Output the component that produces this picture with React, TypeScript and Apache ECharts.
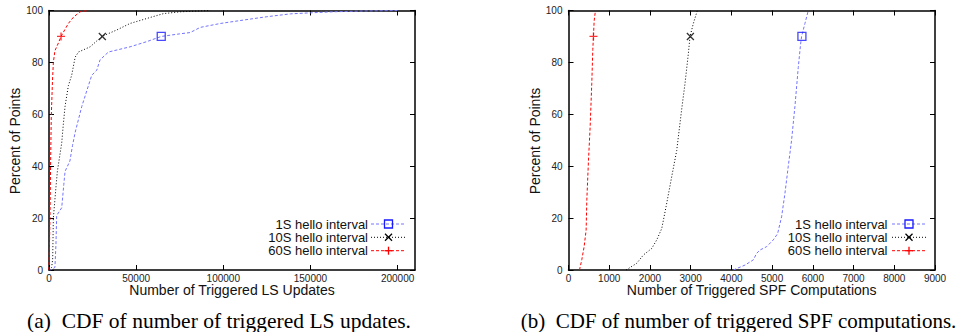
import React, { useEffect, useRef } from "react";
import * as echarts from "echarts";

// ---------- Data ----------
// (a) CDF of triggered LS updates: [count, percent]
const ls1s: number[][] = [
  [0, 0], [1000, 0], [3400, 1], [4000, 10], [4400, 21], [7300, 24], [8500, 33], [9200, 38],
  [12000, 42], [13500, 48], [15000, 53], [18800, 63], [22600, 71], [24500, 75], [27400, 77],
  [29300, 81], [34100, 84], [46500, 86], [56100, 88], [64400, 90], [75000, 91], [81000, 91.5],
  [86800, 93.5], [98300, 95], [115500, 96.7], [125000, 97.6], [138500, 98.7], [150000, 99.1],
  [163000, 99.5], [180000, 99.8], [200000, 100],
];
const ls10s: number[][] = [
  [0, 0], [1500, 1], [2100, 4], [2500, 20], [4000, 32], [4800, 38], [7300, 49], [8200, 56],
  [9200, 63], [11100, 71], [13000, 75], [15000, 82], [16900, 84], [23600, 86], [30300, 90],
  [38900, 92.5], [46500, 95], [58000, 97.3], [65700, 98.8], [75300, 99.5], [92500, 100],
];
const ls60s: number[][] = [
  [0, 0], [300, 10], [600, 22], [900, 40], [1300, 59], [2000, 73], [2500, 80], [3400, 84.5],
  [5400, 87.5], [6900, 90], [9000, 92.5], [11100, 95], [14000, 97.4], [17800, 99.5], [22600, 100],
];
const lsMarkers1s: number[][] = [[64400, 90]];
const lsMarkers10s: number[][] = [[30600, 90]];
const lsMarkers60s: number[][] = [[6900, 90]];

// (b) CDF of triggered SPF computations
const spf1s: number[][] = [
  [4047, 0], [4334, 1.9], [4538, 3.9], [4620, 6.4], [4702, 7.7], [4865, 9], [5029, 11.6],
  [5135, 14], [5233, 20.5], [5315, 29.5], [5397, 40], [5478, 50], [5560, 63], [5642, 78],
  [5699, 87], [5724, 90], [5806, 95], [5888, 100],
];
const spf10s: number[][] = [
  [1415, 0], [1676, 2.6], [1840, 5.8], [2044, 8.3], [2167, 11.6], [2290, 16], [2396, 24.4],
  [2535, 36], [2657, 46], [2780, 62], [2862, 72], [2944, 83.5], [2984, 90], [3066, 95], [3164, 100],
];
const spf60s: number[][] = [
  [270, 0], [327, 4], [384, 9], [433, 15.4], [450, 27], [490, 42], [531, 55], [572, 72],
  [597, 85], [613, 90], [630, 96], [662, 100],
];
const spfMarkers1s: number[][] = [[5732, 90]];
const spfMarkers10s: number[][] = [[2993, 90]];
const spfMarkers60s: number[][] = [[613, 90]];

const seriesNames = ["1S hello interval", "10S hello interval", "60S hello interval"];
const yTicks = { min: 0, max: 100, interval: 20 };
const lsAxis = { min: 0, max: 210000, interval: 50000 };
const spfAxis = { min: 0, max: 9000, interval: 1000 };

const xTitles = ["Number of Triggered LS Updates", "Number of Triggered SPF Computations"];
const yTitle = "Percent of Points";
const captions = [
  "(a)  CDF of number of triggered LS updates.",
  "(b)  CDF of number of triggered SPF computations.",
];

// ---------- Styles ----------
const SANS = '"Liberation Sans", Arial, Helvetica, sans-serif';
const SERIF = '"Liberation Serif", "Times New Roman", serif';
const BLUE_LINE = "#7474ff";
const BLUE_MARK = "#1a1aff";
const BLACK = "#000000";
const RED = "#ff0000";
const styles = [
  { line: BLUE_LINE, mark: BLUE_MARK, dash: [3, 2] },
  { line: BLACK, mark: BLACK, dash: [1, 2] },
  { line: RED, mark: RED, dash: [3, 2] },
];
const SYM_X = "path://M0,0L10,10M10,0L0,10";
const SYM_PLUS = "path://M5,0L5,10M0,5L10,5";

const grids = [
  { left: 49, top: 10.5, width: 366, height: 259.5 },
  { left: 568.5, top: 10.5, width: 366.5, height: 259.5 },
];

function axisPair(gridIndex: number, range: { min: number; max: number; interval: number }, isX: boolean, hideMax: boolean) {
  const common = {
    type: "value" as const,
    gridIndex,
    min: range.min,
    max: range.max,
    interval: range.interval,
    splitLine: { show: false },
    axisLine: { show: true, onZero: false, lineStyle: { color: "#000", width: 1.5 } },
    axisTick: { show: true, inside: true, length: 5, lineStyle: { color: "#000", width: 1 } },
  };
  const main = {
    ...common,
    position: isX ? "bottom" : "left",
    axisLabel: {
      show: true,
      fontSize: 10,
      lineHeight: 10,
      fontFamily: SANS,
      color: "#222",
      margin: isX ? 3 : 6,
      showMaxLabel: hideMax ? false : undefined,
      formatter: (v: number) => String(v),
    },
  };
  const mirror = {
    ...common,
    position: isX ? "top" : "right",
    axisLabel: { show: false },
  };
  return [main, mirror];
}

function lineSeries(name: string, data: number[][], idx: number, axisIdx: number) {
  return {
    type: "line",
    name,
    data,
    xAxisIndex: axisIdx,
    yAxisIndex: axisIdx,
    symbol: "none",
    showSymbol: false,
    lineStyle: { color: styles[idx].line, width: 1, type: styles[idx].dash },
    z: 3,
  };
}

function markerSeries(data: number[][], idx: number, axisIdx: number) {
  const symbols = ["rect", SYM_X, SYM_PLUS];
  const sizes = [8, 7, 8];
  return {
    type: "scatter",
    data,
    xAxisIndex: axisIdx,
    yAxisIndex: axisIdx,
    symbol: symbols[idx],
    symbolSize: sizes[idx],
    itemStyle: { color: "rgba(0,0,0,0)", borderColor: styles[idx].mark, borderWidth: 1.3 },
    z: 5,
  };
}

function legendGraphics(textRight: number, lineX1: number, lineX2: number, markX: number, rows: number[]) {
  const els: any[] = [];
  rows.forEach((y, i) => {
    els.push({
      type: "text",
      x: textRight,
      y,
      style: { text: seriesNames[i], align: "right", verticalAlign: "middle", font: `13px ${SANS}`, fill: "#111" },
    });
    els.push({
      type: "line",
      shape: { x1: lineX1, y1: y, x2: lineX2, y2: y },
      style: { stroke: styles[i].line, lineWidth: 1, lineDash: styles[i].dash },
    });
    const s = 3.5;
    if (i === 0) {
      els.push({
        type: "rect",
        shape: { x: markX - 4, y: y - 4, width: 8, height: 8 },
        style: { fill: "rgba(0,0,0,0)", stroke: styles[i].mark, lineWidth: 1.3 },
      });
    } else if (i === 1) {
      els.push({ type: "line", shape: { x1: markX - s, y1: y - s, x2: markX + s, y2: y + s }, style: { stroke: styles[i].mark, lineWidth: 1.3 } });
      els.push({ type: "line", shape: { x1: markX - s, y1: y + s, x2: markX + s, y2: y - s }, style: { stroke: styles[i].mark, lineWidth: 1.3 } });
    } else {
      els.push({ type: "line", shape: { x1: markX - 4, y1: y, x2: markX + 4, y2: y }, style: { stroke: styles[i].mark, lineWidth: 1.3 } });
      els.push({ type: "line", shape: { x1: markX, y1: y - 4, x2: markX, y2: y + 4 }, style: { stroke: styles[i].mark, lineWidth: 1.3 } });
    }
  });
  return els;
}

export default function App() {
  const ref = useRef<HTMLDivElement>(null);
  useEffect(() => {
    if (!ref.current) return;
    const chart = echarts.init(ref.current, undefined, { renderer: "svg", width: 961, height: 332 });
    const [lx, lxTop] = axisPair(0, lsAxis, true, true);
    const [rx, rxTop] = axisPair(1, spfAxis, true, false);
    const [ly, lyRight] = axisPair(0, yTicks, false, false);
    const [ry, ryRight] = axisPair(1, yTicks, false, false);

    const legendRows = [224, 237.3, 250.7];
    const graphic: any[] = [
      // axis titles
      { type: "text", x: 232, y: 290, style: { text: xTitles[0], align: "center", verticalAlign: "middle", font: `14px ${SANS}`, fill: "#111" } },
      { type: "text", x: 751.7, y: 290, style: { text: xTitles[1], align: "center", verticalAlign: "middle", font: `14px ${SANS}`, fill: "#111" } },
      { type: "text", x: 15, y: 141, rotation: Math.PI / 2, style: { text: yTitle, align: "center", verticalAlign: "middle", font: `14px ${SANS}`, fill: "#111" } },
      { type: "text", x: 535, y: 141, rotation: Math.PI / 2, style: { text: yTitle, align: "center", verticalAlign: "middle", font: `14px ${SANS}`, fill: "#111" } },
      // captions
      { type: "text", x: 219, y: 321, style: { text: captions[0], align: "center", verticalAlign: "middle", font: `21.5px ${SERIF}`, fill: "#000" } },
      { type: "text", x: 738.5, y: 321, style: { text: captions[1], align: "center", verticalAlign: "middle", font: `21px ${SERIF}`, fill: "#000" } },
      ...legendGraphics(368, 371, 406, 388.5, legendRows),
      ...legendGraphics(887.5, 892, 926, 909, legendRows),
    ];

    chart.setOption({
      animation: false,
      backgroundColor: "#ffffff",
      grid: grids,
      xAxis: [lx, lxTop, rx, rxTop],
      yAxis: [ly, lyRight, ry, ryRight],
      series: [
        lineSeries(seriesNames[0], ls1s, 0, 0),
        lineSeries(seriesNames[1], ls10s, 1, 0),
        lineSeries(seriesNames[2], ls60s, 2, 0),
        markerSeries(lsMarkers1s, 0, 0),
        markerSeries(lsMarkers10s, 1, 0),
        markerSeries(lsMarkers60s, 2, 0),
        lineSeries(seriesNames[0], spf1s, 0, 2),
        lineSeries(seriesNames[1], spf10s, 1, 2),
        lineSeries(seriesNames[2], spf60s, 2, 2),
        markerSeries(spfMarkers1s, 0, 2),
        markerSeries(spfMarkers10s, 1, 2),
        markerSeries(spfMarkers60s, 2, 2),
      ],
      graphic,
    });
    return () => chart.dispose();
  }, []);
  return <div ref={ref} style={{ position: "absolute", left: 0, top: 0, width: 961, height: 332 }} />;
}
